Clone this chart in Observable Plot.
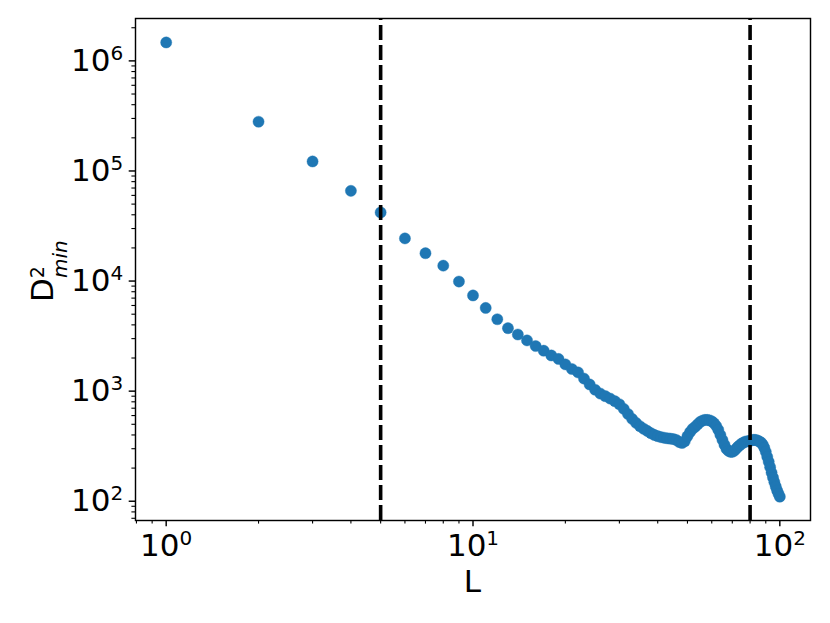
<!DOCTYPE html>
<html><head><meta charset="utf-8">
<script src="https://cdn.jsdelivr.net/npm/d3@7"></script>
<script src="https://cdn.jsdelivr.net/npm/@observablehq/plot@0.6"></script>
<style>html,body{margin:0;padding:0;background:#fff}svg{display:block}</style>
</head><body><div id="chart"></div>
<script>
// L values (window size)
const L = [1,2,3,4,5,6,7,8,9,10,11,12,13,14,15,16,17,18,19,20,
  21,22,23,24,25,26,27,28,29,30,31,32,33,34,35,36,37,38,39,40,
  41,42,43,44,45,46,47,48,49,50,51,52,53,54,55,56,57,58,59,60,
  61,62,63,64,65,66,67,68,69,70,71,72,73,74,75,76,77,78,79,80,
  81,82,83,84,85,86,87,88,89,90,91,92,93,94,95,96,97,98,99,100];
// D^2_min values
const D2min = [1470000,280000,122000,66000,42000,24400,17900,13800,9900,7400,
  5700,4500,3730,3270,2890,2570,2330,2110,1960,1750,
  1590,1480,1300,1150,1030,950,900,855,810,760,
  690,620,560,515,480,455,435,415,400,390,
  382,377,373,370,367,360,345,338,350,390,
  425,455,475,500,525,540,548,548,543,532,
  512,484,446,401,361,326,299,287,281,281,
  287,299,312,322,333,340,347,349,352,354,
  358,361,361,358,354,347,340,326,306,281,
  253,228,204,182,164,149,136,125,117,110];
const vLines = [5, 80];
const xMajor = [1, 10, 100];
const xMajorExp = ["0", "1", "2"];
const xMinor = [0.8,0.9,2,3,4,5,6,7,8,9,20,30,40,50,60,70,80,90];
const yMajor = [1e2, 1e3, 1e4, 1e5, 1e6];
const yMajorExp = ["2", "3", "4", "5", "6"];
const yMinor = [70,80,90,200,300,400,500,600,700,800,900,
  2000,3000,4000,5000,6000,7000,8000,9000,
  20000,30000,40000,50000,60000,70000,80000,90000,
  200000,300000,400000,500000,600000,700000,800000,900000,2000000];
const xLabel = "L";
const yLabelBase = "D", yLabelSup = "2", yLabelSub = "min";

const data = L.map((l, i) => ({L: l, D: D2min[i]}));
const xExpMap = new Map(xMajor.map((v, i) => [v, xMajorExp[i]]));
const yExpMap = new Map(yMajor.map((v, i) => [v, yMajorExp[i]]));
const xDomain = [Math.pow(10, -0.1), Math.pow(10, 2.1)];
const yDomain = [Math.pow(10, 1.825), Math.pow(10, 6.385)];

const FS = 31;
const plot = Plot.plot({
  width: 830, height: 623,
  marginLeft: 135, marginRight: 20, marginTop: 18, marginBottom: 103,
  style: {fontFamily: "DejaVu Sans", fontSize: FS + "px", color: "black", background: "white"},
  x: {type: "log", domain: xDomain, axis: null},
  y: {type: "log", domain: yDomain, axis: null},
  marks: [
    Plot.dot(data, {x: "L", y: "D", r: 5.6, fill: "#1f77b4", stroke: "#1f77b4", strokeWidth: 0.4}),
    Plot.ruleX(vLines, {x: d => d, y1: yDomain[0], y2: yDomain[1], stroke: "black", strokeWidth: 3.6, strokeDasharray: "15,5"}),
    Plot.frame({stroke: "black", strokeWidth: 1.44}),
    Plot.axisX(xMinor, {anchor: "bottom", tickSize: 3.6, strokeWidth: 1.1, tickFormat: () => "", label: null}),
    Plot.axisY(yMinor, {anchor: "left", tickSize: 3.6, strokeWidth: 1.1, tickFormat: () => "", label: null}),
    Plot.axisX(xMajor, {anchor: "bottom", tickSize: 6.3, strokeWidth: 1.44, tickPadding: 7, fontSize: FS, tickFormat: d => xExpMap.get(d), label: null}),
    Plot.axisY(yMajor, {anchor: "left", tickSize: 6.3, strokeWidth: 1.44, tickPadding: 6, fontSize: FS, tickFormat: d => yExpMap.get(d), label: null})
  ]
});

const svg = d3.select(plot);
svg.selectAll('g[aria-label="x-axis tick label"] text, g[aria-label="y-axis tick label"] text').each(function() {
  const e = this.textContent;
  if (!e) return;
  this.textContent = "10";
  d3.select(this).append("tspan").attr("dy", -11).attr("font-size", "20px").text(e);
});
// x axis label
svg.append("text").attr("x", 472.5).attr("y", 592).attr("text-anchor", "middle")
  .attr("font-family", "DejaVu Sans").attr("font-size", FS).attr("fill", "black").text(xLabel);
// y axis label: D^2_min
const yl = svg.append("text").attr("transform", "translate(53,302) rotate(-90)")
  .attr("text-anchor", "start").attr("font-family", "DejaVu Sans").attr("font-size", FS).attr("fill", "black");
yl.append("tspan").text(yLabelBase);
yl.append("tspan").attr("font-size", "19px").attr("dy", -9).text(yLabelSup);
yl.append("tspan").attr("font-size", "20px").attr("font-style", "italic").attr("dx", -12).attr("dy", 23).text(yLabelSub);

document.getElementById("chart").appendChild(plot);
</script>
</body></html>
